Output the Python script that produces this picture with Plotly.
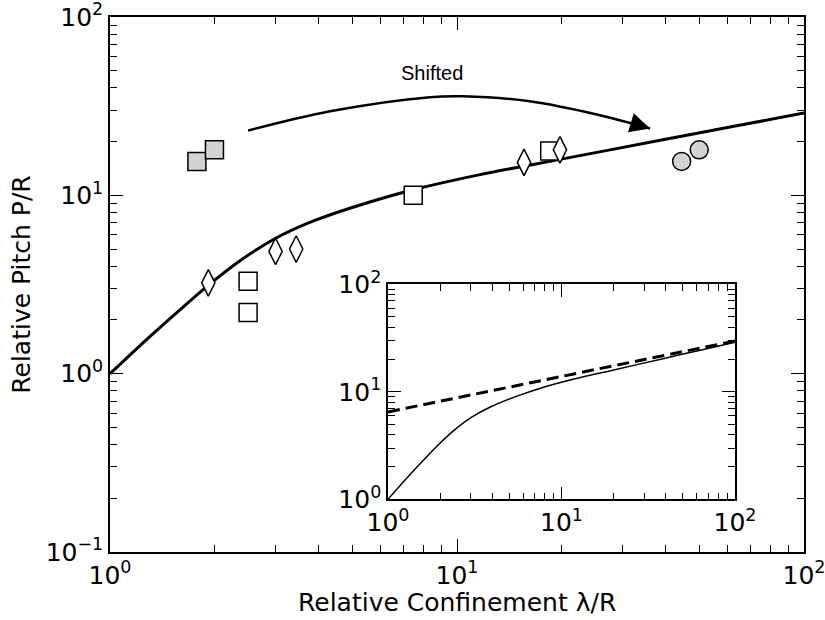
import numpy as np
import plotly.graph_objects as go

# ---- data ----
curve_x = [1, 1.3, 1.63, 1.9, 2.37, 3.02, 3.94, 5.49, 7.48, 11.65, 20, 38.5, 61.2, 100]
curve_y = [1.0, 1.61, 2.38, 3.08, 4.3, 5.78, 7.3, 9.06, 10.75, 13.07, 15.96, 20.34, 24.14, 28.95]
asym_x = [1, 100]
asym_y = [6.5, 29.7]

gray_sq_x = [1.78, 2.0]
gray_sq_y = [15.5, 18.0]
open_sq_x = [2.5, 2.5, 7.48, 18.5]
open_sq_y = [3.3, 2.2, 10.0, 17.7]
diam_x = [1.92, 3.0, 3.44, 15.6, 19.8]
diam_y = [3.23, 4.85, 5.0, 15.3, 18.0]
circ_x = [44.4, 49.9]
circ_y = [15.5, 18.0]

arc_x = [2.50, 4.31, 8.36, 10.43, 16.2, 25.3, 36.0]
arc_y = [23.07, 29.6, 35.5, 35.9, 33.7, 28.4, 23.7]

label_x, label_y = 8.45, 48.5

main_x_ticks = [1, 10, 100]
main_x_text = ["10<sup>0</sup>", "10<sup>1</sup>", "10<sup>2</sup>"]
main_y_ticks = [0.1, 1, 10, 100]
main_y_text = ["10<sup>\u22121</sup>", "10<sup>0</sup>", "10<sup>1</sup>", "10<sup>2</sup>"]
inset_y_ticks = [1, 10, 100]
inset_y_text = ["10<sup>0</sup>", "10<sup>1</sup>", "10<sup>2</sup>"]
minor_ticks = [m * d for d in (0.1, 1, 10) for m in range(2, 10)]

FONT = "DejaVu Sans"
TICKFS = 25

fig = go.Figure()

# main curve
fig.add_trace(go.Scatter(x=curve_x, y=curve_y, mode="lines",
                         line=dict(color="black", width=3, shape="spline", smoothing=0.8),
                         xaxis="x", yaxis="y", showlegend=False))
# arc arrow
fig.add_trace(go.Scatter(x=arc_x, y=arc_y, mode="lines", line=dict(color="black", width=2.5, shape="spline"),
                         xaxis="x", yaxis="y", showlegend=False))

mline = dict(color="black", width=1.5)
fig.add_trace(go.Scatter(x=gray_sq_x, y=gray_sq_y, mode="markers",
                         marker=dict(symbol="square", size=18, color="#d3d3d3", line=mline), showlegend=False))
fig.add_trace(go.Scatter(x=open_sq_x, y=open_sq_y, mode="markers",
                         marker=dict(symbol="square", size=18, color="white", line=mline), showlegend=False))
fig.add_trace(go.Scatter(x=diam_x, y=diam_y, mode="markers",
                         marker=dict(symbol="diamond-tall", size=19, color="white", line=mline), showlegend=False))
fig.add_trace(go.Scatter(x=circ_x, y=circ_y, mode="markers",
                         marker=dict(symbol="circle", size=18, color="#d3d3d3", line=mline), showlegend=False))

# inset
fig.add_trace(go.Scatter(x=curve_x, y=curve_y, mode="lines",
                         line=dict(color="black", width=1.5, shape="spline", smoothing=0.8),
                         xaxis="x2", yaxis="y2", showlegend=False))
fig.add_trace(go.Scatter(x=asym_x, y=asym_y, mode="lines", line=dict(color="black", width=3, dash="12px,6px"),
                         xaxis="x2", yaxis="y2", showlegend=False))

def axis_common(fs, tickvals, ticktext, rng):
    return dict(type="log", range=rng, tickmode="array", tickvals=tickvals, ticktext=ticktext,
                ticks="inside", ticklen=13, tickwidth=1, tickcolor="black",
                showline=True, linecolor="black", linewidth=1.5, mirror="ticks",
                showgrid=False, zeroline=False, automargin=False, ticklabeloverflow="allow",
                tickfont=dict(family=FONT, size=fs, color="black"),
                minor=dict(tickmode="array", tickvals=minor_ticks, ticks="inside", ticklen=7,
                           tickwidth=1, tickcolor="black", showgrid=False))

xa = axis_common(TICKFS, main_x_ticks, main_x_text, [0, 2])
xa.update(domain=[0, 1], anchor="y")
ya = axis_common(TICKFS, main_y_ticks, main_y_text, [-1, 2])
ya.update(domain=[0, 1], anchor="x",
          title=dict(text="Relative Pitch P/R", font=dict(family=FONT, size=25, color="black"), standoff=8))

xa2 = axis_common(TICKFS, main_x_ticks, main_x_text, [0, 2])
xa2.update(domain=[0.4006, 0.9006], anchor="y2")
ya2 = axis_common(TICKFS, inset_y_ticks, inset_y_text, [0, 2])
ya2.update(domain=[0.0985, 0.5004], anchor="x2")

fig.update_layout(
    width=825, height=620,
    margin=dict(l=110, r=21, t=17, b=68),
    paper_bgcolor="white", plot_bgcolor="white",
    xaxis=xa, yaxis=ya, xaxis2=xa2, yaxis2=ya2,
    font=dict(family=FONT, color="black"),
    showlegend=False,
)

# x-axis title
fig.add_annotation(x=0.5, y=-0.094, xref="paper", yref="paper", xanchor="center", yanchor="middle",
                   text="Relative Confinement \u03bb/R", showarrow=False, borderpad=0,
                   font=dict(family=FONT, size=25, color="black"))

# arrow head at the end of the arc
tip_x, tip_y = np.log10(arc_x[-1]), np.log10(arc_y[-1])
fig.add_annotation(x=tip_x, y=tip_y, xref="x", yref="y", ax=-20, ay=-6, axref="pixel", ayref="pixel",
                   showarrow=True, arrowhead=2, arrowsize=1.6, arrowwidth=2.5, arrowcolor="black", text="")
fig.add_annotation(x=np.log10(label_x), y=np.log10(label_y), xref="x", yref="y", text="Shifted", showarrow=False,
                   font=dict(family="Liberation Sans", size=20, color="black"))

fig.write_html("out.html")
